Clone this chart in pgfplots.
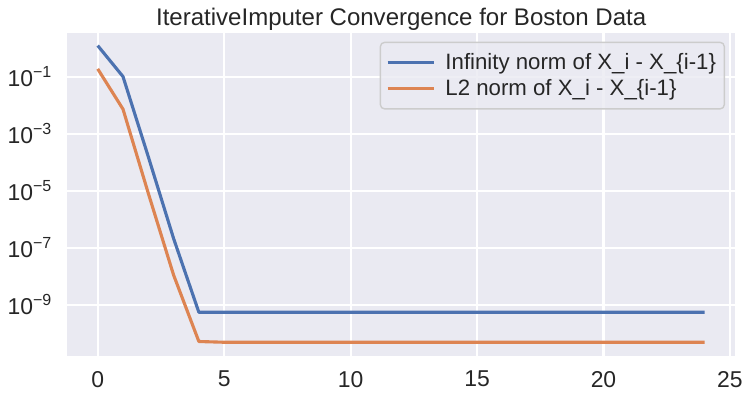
\documentclass[border=0pt]{standalone}
\usepackage{fontspec}
\setmainfont{Liberation Sans}
\usepackage{pgfplots}
\pgfplotsset{compat=1.18}
\definecolor{sbblue}{HTML}{4C72B0}
\definecolor{sborange}{HTML}{DD8452}
\definecolor{sbbg}{HTML}{EAEAF2}
\definecolor{legedge}{HTML}{CCCCCC}
\begin{document}
\begin{tikzpicture}
\begin{axis}[
  scale only axis, width=480.7pt, height=232.6pt,
  ymode=log,
  xmin=-1.2, xmax=25.2, ymin=1.62e-11, ymax=3.47,
  axis background/.style={fill=sbbg},
  axis line style={draw=none},
  grid=major,
  major grid style={white, line width=1.5pt},
  minor y tick num=0,
  yminorgrids=false,
  tick style={draw=none},
  xtick={0,5,10,15,20,25},
  ytick={1e-9,1e-7,1e-5,1e-3,1e-1},
  yticklabels={10\textsuperscript{−9},10\textsuperscript{−7},10\textsuperscript{−5},10\textsuperscript{−3},10\textsuperscript{−1}},
  /pgf/number format/assume math mode=true,
  tick label style={font=\fontsize{16.5}{20}\selectfont, text=black!85},
  xticklabel style={yshift=-7.5pt},
  yticklabel style={xshift=-7.5pt},
  title={IterativeImputer Convergence for Boston Data},
  title style={at={(0.5,1)}, anchor=base, yshift=-0.5pt, font=\fontsize{17.3}{21}\selectfont, text=black!85},
  legend style={at={(1,1)}, anchor=north east, xshift=-7.2pt, yshift=-6.5pt,
    font=\fontsize{16}{19}\selectfont, text=black!85,
    draw=legedge, line width=1pt, fill=sbbg, fill opacity=0.8, text opacity=1,
    rounded corners=3pt, inner xsep=4pt, inner ysep=6pt, row sep=1.7pt,
    /tikz/every odd column/.append style={column sep=5pt}},
  legend cell align=left,
  legend image code/.code={\draw[#1, line width=2.25pt] (0pt,0pt) -- (33.6pt,0pt);},
  every axis plot/.append style={line width=2.25pt, line join=round},
]
\addplot[sbblue] coordinates {
(0,1.22) (1,0.1) (2,1.55e-4) (3,2.1e-7) (4,5.4e-10) (5,5.4e-10) (6,5.4e-10) (7,5.4e-10) (8,5.4e-10) (9,5.4e-10) (10,5.4e-10) (11,5.4e-10) (12,5.4e-10) (13,5.4e-10) (14,5.4e-10) (15,5.4e-10) (16,5.4e-10) (17,5.4e-10) (18,5.4e-10) (19,5.4e-10) (20,5.4e-10) (21,5.4e-10) (22,5.4e-10) (23,5.4e-10) (24,5.4e-10)
};
\addlegendentry{Infinity norm of X\_i - X\_\{i-1\}}
\addplot[sborange] coordinates {
(0,0.186) (1,7.2e-3) (2,8.1e-6) (3,1.1e-8) (4,5.1e-11) (5,4.8e-11) (6,4.8e-11) (7,4.8e-11) (8,4.8e-11) (9,4.8e-11) (10,4.8e-11) (11,4.8e-11) (12,4.8e-11) (13,4.8e-11) (14,4.8e-11) (15,4.8e-11) (16,4.8e-11) (17,4.8e-11) (18,4.8e-11) (19,4.8e-11) (20,4.8e-11) (21,4.8e-11) (22,4.8e-11) (23,4.8e-11) (24,4.8e-11)
};
\addlegendentry{L2 norm of X\_i - X\_\{i-1\}}
\end{axis}
\pgfresetboundingbox
\path[use as bounding box] ([xshift=-48.5pt,yshift=-31.9pt]current axis.south west) rectangle ([xshift=14.4pt,yshift=23.5pt]current axis.north east);
\end{tikzpicture}
\end{document}
